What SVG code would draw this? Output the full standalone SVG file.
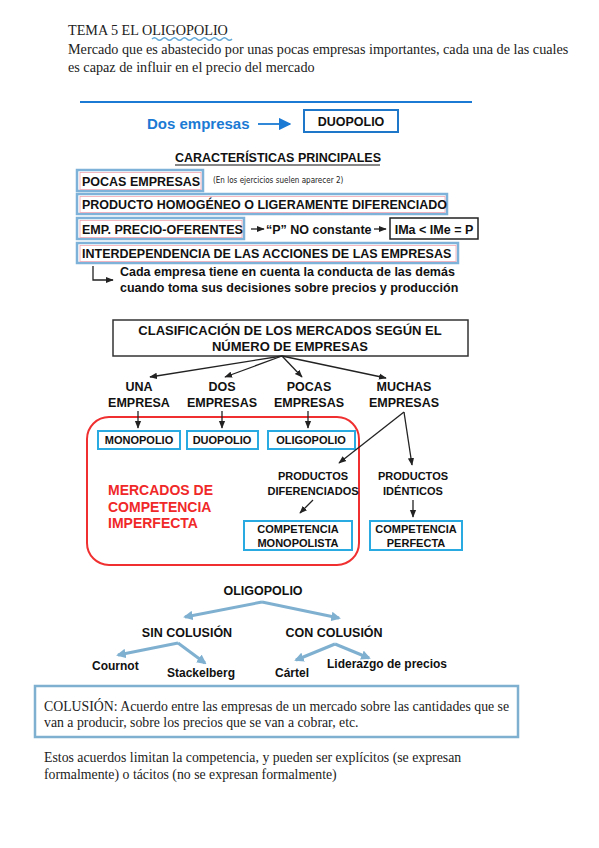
<svg xmlns="http://www.w3.org/2000/svg" width="599" height="848" viewBox="0 0 599 848">
<style>
.serif{font-family:"Liberation Serif","Times New Roman",serif;font-size:14.2px;fill:#222}
.b{font-family:"Liberation Sans",Arial,sans-serif;font-weight:bold;fill:#111}
.s12{font-size:12.5px}
.t12{font-size:12px}
.s11{font-size:11px}
.s13{font-size:13px}
.cx{text-anchor:middle}
.cb{fill:#fff;stroke:#7fb2d9;stroke-width:2.5}
.pk{fill:none;stroke:#f2a5b0;stroke-width:0.8}
.cy{fill:#fff;stroke:#29aae1;stroke-width:2}
.ln{stroke:#222;stroke-width:1.3;fill:none}
.lb{stroke:#7fb0d0;stroke-width:3;fill:none}
</style>
<defs>
<marker id="ah" viewBox="0 0 10 10" refX="9" refY="5" markerWidth="6" markerHeight="6" orient="auto"><path d="M0,1 L10,5 L0,9 z" fill="#222"/></marker>
<marker id="ahb" viewBox="0 0 10 10" refX="9" refY="5" markerWidth="7" markerHeight="7" orient="auto"><path d="M0,0 L10,5 L0,10 z" fill="#1a7ad4"/></marker>
<marker id="ahl" viewBox="0 0 10 10" refX="8" refY="5" markerWidth="3.2" markerHeight="3.2" orient="auto"><path d="M0,0 L10,5 L0,10 z" fill="#7fb0d0"/></marker>
</defs>
<rect width="599" height="848" fill="#fff"/>

<g id="header">
<text class="serif" x="68" y="35">TEMA 5 EL OLIGOPOLIO</text>
<path d="M152,39 q2.5,-2.5 5,0 t5,0 t5,0 t5,0 t5,0 t5,0 t5,0 t5,0 t5,0 t5,0 t5,0 t5,0 t5,0 t5,0 t5,0 t5,0" fill="none" stroke="#5fa8d8" stroke-width="1.5"/>
<text class="serif" x="68" y="54">Mercado que es abastecido por unas pocas empresas importantes, cada una de las cuales</text>
<text class="serif" x="68" y="72">es capaz de influir en el precio del mercado</text>
<line x1="80" y1="102" x2="472" y2="102" stroke="#1a7ad4" stroke-width="1.8"/>
</g>

<g id="dos-empresas">
<text class="b" x="147" y="129" style="font-size:15px;fill:#1a7ad4">Dos empresas</text>
</g>
<g id="duopolio-top">
<rect x="304" y="110" width="94" height="22" fill="#fff" stroke="#1f77c9" stroke-width="2"/>
<text class="b s12 cx" x="351" y="126">DUOPOLIO</text>
</g>

<g id="caracteristicas">
<text class="b s12" x="175" y="162">CARACTERÍSTICAS PRINCIPALES</text>
<line x1="175" y1="165" x2="380" y2="165" stroke="#111" stroke-width="1"/>
</g>

<g id="pocas">
<rect class="cb" x="77" y="170" width="126" height="21"/>
<rect class="pk" x="80" y="172.5" width="121" height="17"/>
<text class="b s12" x="82" y="186">POCAS EMPRESAS</text>
<text x="213" y="183" style="font-family:'DejaVu Sans Condensed','DejaVu Sans',sans-serif;font-size:8px;fill:#222">(En los ejercicios  suelen  aparecer  2)</text>
</g>
<g id="producto">
<rect class="cb" x="77" y="194" width="370" height="20"/>
<rect class="pk" x="80" y="196.5" width="365" height="16"/>
<text class="b s12" x="82" y="209">PRODUCTO HOMOGÉNEO O LIGERAMENTE DIFERENCIADO</text>
</g>
<g id="emp-precio">
<rect class="cb" x="77" y="218" width="167" height="21"/>
<rect class="pk" x="80" y="220.5" width="162" height="17"/>
<text class="b s12" x="82" y="234">EMP. PRECIO-OFERENTES</text>
<text class="b s12" x="266" y="234">“P” NO constante</text>
</g>
<g id="ima">
<rect x="390" y="218" width="88" height="21" fill="#fff" stroke="#222" stroke-width="1.5"/>
<text class="b s12 cx" x="434" y="234">IMa &lt; IMe = P</text>
</g>
<g id="interdependencia">
<rect class="cb" x="77" y="243" width="381" height="20"/>
<rect class="pk" x="80" y="245.5" width="376" height="16"/>
<text class="b s12" x="82" y="258">INTERDEPENDENCIA DE LAS ACCIONES DE LAS EMPRESAS</text>
<text class="b s12" x="120" y="276">Cada empresa tiene en cuenta la conducta de las demás</text>
<text class="b s12" x="120" y="292">cuando toma sus decisiones sobre precios y producción</text>
</g>

<g id="clasificacion">
<rect x="113" y="320" width="355" height="36" fill="#fff" stroke="#333" stroke-width="1.5"/>
<text class="b s13 cx" x="290" y="335">CLASIFICACIÓN DE LOS MERCADOS SEGÚN EL</text>
<text class="b s13 cx" x="290" y="351">NÚMERO DE EMPRESAS</text>
</g>
<g id="una"><text class="b s12 cx" x="139" y="391">UNA</text><text class="b s12 cx" x="139" y="407">EMPRESA</text></g>
<g id="dos"><text class="b s12 cx" x="222" y="391">DOS</text><text class="b s12 cx" x="222" y="407">EMPRESAS</text></g>
<g id="pocas2"><text class="b s12 cx" x="309" y="391">POCAS</text><text class="b s12 cx" x="309" y="407">EMPRESAS</text></g>
<g id="muchas"><text class="b s12 cx" x="404" y="391">MUCHAS</text><text class="b s12 cx" x="404" y="407">EMPRESAS</text></g>

<g id="imperfecta">
<rect x="87" y="417" width="272" height="148" rx="22" fill="none" stroke="#f03030" stroke-width="2"/>
<text class="b" x="108" y="495" style="font-size:14px;fill:#f02828">MERCADOS DE</text>
<text class="b" x="108" y="512" style="font-size:14px;fill:#f02828">COMPETENCIA</text>
<text class="b" x="108" y="528" style="font-size:14px;fill:#f02828">IMPERFECTA</text>
</g>
<g id="monopolio"><rect class="cy" x="98" y="431" width="82" height="18"/><text class="b s11 cx" x="139" y="444">MONOPOLIO</text></g>
<g id="duopolio"><rect class="cy" x="187" y="431" width="71" height="18"/><text class="b s11 cx" x="222" y="444">DUOPOLIO</text></g>
<g id="oligopolio"><rect class="cy" x="268" y="431" width="87" height="18"/><text class="b s11 cx" x="311" y="444">OLIGOPOLIO</text></g>
<g id="diferenciados"><text class="b s11 cx" x="313" y="480">PRODUCTOS</text><text class="b s11 cx" x="313" y="495">DIFERENCIADOS</text></g>
<g id="identicos"><text class="b s11 cx" x="413" y="480">PRODUCTOS</text><text class="b s11 cx" x="413" y="495">IDÉNTICOS</text></g>
<g id="monopolista"><rect class="cy" x="244" y="521" width="108" height="29"/><text class="b s11 cx" x="298" y="533">COMPETENCIA</text><text class="b s11 cx" x="298" y="547">MONOPOLISTA</text></g>
<g id="perfecta"><rect class="cy" x="370" y="521" width="92" height="29"/><text class="b s11 cx" x="416" y="533">COMPETENCIA</text><text class="b s11 cx" x="416" y="547">PERFECTA</text></g>

<g id="oligopolio-tree">
<text class="b s12 cx" x="263" y="595">OLIGOPOLIO</text>
<text class="b s12 cx" x="187" y="637">SIN COLUSIÓN</text>
<text class="b s12 cx" x="334" y="637">CON COLUSIÓN</text>
<text class="b t12" x="92" y="670">Cournot</text>
<text class="b t12" x="167" y="677">Stackelberg</text>
<text class="b t12" x="275" y="677">Cártel</text>
<text class="b t12" x="327" y="668">Liderazgo de precios</text>
</g>

<g id="colusion">
<rect x="35" y="686" width="483" height="51" fill="#fff" stroke="#7fb0d0" stroke-width="2.5"/>
<text class="serif" x="44" y="711" style="font-size:13.8px">COLUSIÓN: Acuerdo entre las empresas de un mercado sobre las cantidades que se</text>
<text class="serif" x="44" y="727" style="font-size:13.8px">van a producir, sobre los precios que se van a cobrar, etc.</text>
</g>
<g id="nota">
<text class="serif" x="44" y="762" style="font-size:13.8px">Estos acuerdos limitan la competencia, y pueden ser explícitos (se expresan</text>
<text class="serif" x="44" y="779" style="font-size:13.8px">formalmente) o tácitos (no se expresan formalmente)</text>
</g>

<g id="connectors">
<line x1="258" y1="124" x2="290" y2="124" stroke="#1a7ad4" stroke-width="1.8" marker-end="url(#ahb)"/>
<line class="ln" x1="251" y1="229" x2="264" y2="229" marker-end="url(#ah)"/>
<line class="ln" x1="374" y1="229" x2="386" y2="229" marker-end="url(#ah)"/>
<polyline class="ln" points="93,266 93,280 113,280" marker-end="url(#ah)"/>
<line class="ln" x1="282" y1="356" x2="150" y2="377" marker-end="url(#ah)"/>
<line class="ln" x1="282" y1="356" x2="225" y2="377" marker-end="url(#ah)"/>
<line class="ln" x1="282" y1="356" x2="302" y2="377" marker-end="url(#ah)"/>
<line class="ln" x1="282" y1="356" x2="386" y2="378" marker-end="url(#ah)"/>
<line class="ln" x1="138" y1="411" x2="138" y2="428" marker-end="url(#ah)"/>
<line class="ln" x1="222" y1="411" x2="222" y2="428" marker-end="url(#ah)"/>
<line class="ln" x1="308" y1="411" x2="308" y2="428" marker-end="url(#ah)"/>
<line class="ln" x1="404" y1="412" x2="339" y2="463" marker-end="url(#ah)"/>
<line class="ln" x1="404" y1="412" x2="412" y2="465" marker-end="url(#ah)"/>
<line class="ln" x1="313" y1="500" x2="300" y2="513" marker-end="url(#ah)"/>
<line class="ln" x1="413" y1="500" x2="413" y2="517" marker-end="url(#ah)"/>
<line class="lb" x1="262" y1="602" x2="185" y2="617" marker-end="url(#ahl)"/>
<line class="lb" x1="262" y1="602" x2="339" y2="618" marker-end="url(#ahl)"/>
<line class="lb" x1="178" y1="643" x2="118" y2="655" marker-end="url(#ahl)"/>
<line class="lb" x1="178" y1="643" x2="205" y2="663" marker-end="url(#ahl)"/>
<line class="lb" x1="335" y1="644" x2="296" y2="660" marker-end="url(#ahl)"/>
<line class="lb" x1="335" y1="644" x2="369" y2="658" marker-end="url(#ahl)"/>
</g>
</svg>
